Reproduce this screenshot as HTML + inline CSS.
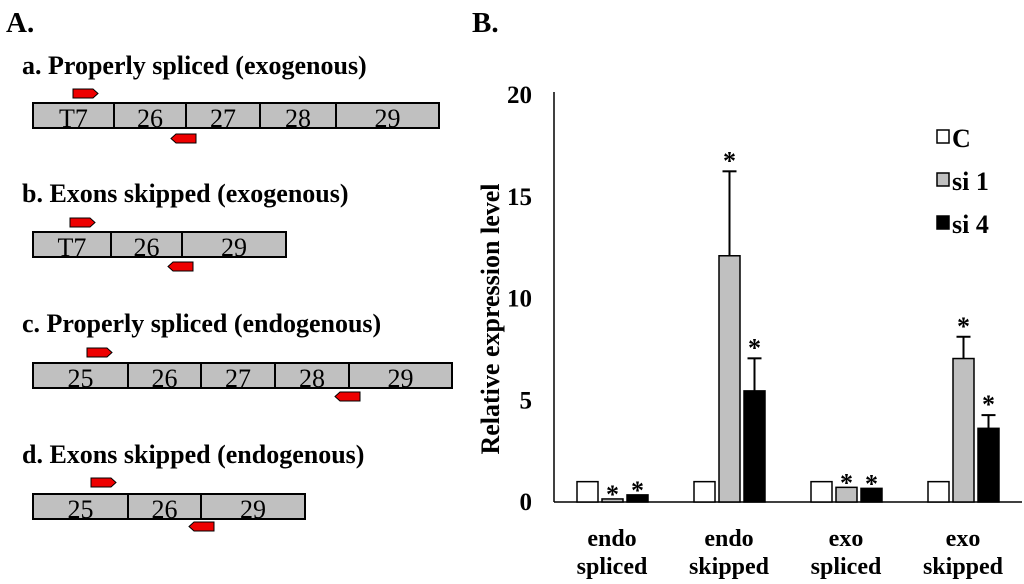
<!DOCTYPE html>
<html><head><meta charset="utf-8"><style>
body{margin:0;background:#fff;}
svg{display:block;font-family:"Liberation Serif",serif;}
</style></head><body>
<svg width="1024" height="584" viewBox="0 0 1024 584">
<g id="panelA">
<text x="6" y="32" font-size="29" font-weight="bold">A.</text>
</g>
<g id="panelB">
<text x="472" y="32" font-size="29" font-weight="bold">B.</text>
<text transform="translate(499,319) rotate(-90)" text-anchor="middle" font-size="26" font-weight="bold">Relative expression level</text>
</g>
</svg>
<script>
const diagrams=[
 {title:"a. Properly spliced (exogenous)",ty:74,y:103,edges:[33,114,186,260,336,439],labels:["T7","26","27","28","29"],fwd:[73,89],rev:[171,134]},
 {title:"b. Exons skipped (exogenous)",ty:202,y:232,edges:[33,111,182,286],labels:["T7","26","29"],fwd:[70,218],rev:[168,262]},
 {title:"c. Properly spliced (endogenous)",ty:332,y:363,edges:[33,128,201,275,349,452],labels:["25","26","27","28","29"],fwd:[87,348],rev:[335,392]},
 {title:"d. Exons skipped (endogenous)",ty:463,y:494,edges:[33,128,201,305],labels:["25","26","29"],fwd:[91,478],rev:[189,522]}
];
const NS="http://www.w3.org/2000/svg";
function mk(tag,attrs,parent){const e=document.createElementNS(NS,tag);for(const k in attrs)e.setAttribute(k,attrs[k]);parent.appendChild(e);return e;}
const A=document.getElementById('panelA');
diagrams.forEach((d,i)=>{
 const t=mk('text',{x:22,y:d.ty,'font-size':26,'font-weight':'bold'},A);
 
 
 t.textContent=d.title;
 for(let j=0;j<d.labels.length;j++){
  const x0=d.edges[j],x1=d.edges[j+1];
  const r=mk('rect',{x:x0,y:d.y,width:x1-x0,height:25,fill:'#c0c0c0',stroke:'#000','stroke-width':2},A);
  
  
  const tx=mk('text',{x:(x0+x1)/2,y:d.y+24,'font-size':26,'text-anchor':'middle'},A);
  
  
  tx.textContent=d.labels[j];
 }
 const fx=d.fwd[0],fy=d.fwd[1];
 const f=mk('polygon',{points:`${fx},${fy} ${fx+20},${fy} ${fx+25},${fy+4.5} ${fx+20},${fy+9} ${fx},${fy+9}`,fill:'#e00',stroke:'#000','stroke-width':1},A);
 
 
 const rx=d.rev[0],ry=d.rev[1];
 const p=mk('polygon',{points:`${rx+25},${ry} ${rx+5},${ry} ${rx},${ry+4.5} ${rx+5},${ry+9} ${rx+25},${ry+9}`,fill:'#e00',stroke:'#000','stroke-width':1},A);
 
 
});
</script>
<script>
const categories=[["endo","spliced"],["endo","skipped"],["exo","spliced"],["exo","skipped"]];
const seriesNames=["C","si 1","si 4"];
const valuesC=[1,1,1,1];
const valuesSi1=[0.15,12.1,0.72,7.05];
const valuesSi4=[0.35,5.46,0.67,3.62];
const errC=[0,0,0,0];
const errSi1=[0,4.15,0,1.07];
const errSi4=[0,1.6,0,0.65];
const sigSi1=[1,1,1,1];
const sigSi4=[1,1,1,1];
const yTicks=[0,5,10,15,20];

const B=document.getElementById('panelB');
const y0=502,y1=95,yMax=20;
function yS(v){return y0-(v/yMax)*(y0-y1);}
const axX=554;
function groupCenter(i){return 612+i*117;}
function barX(i,s){return groupCenter(i)-35+s*25;}
const bw=21;
const fills=['#fff','#c0c0c0','#000'];
const vals=[valuesC,valuesSi1,valuesSi4];
const errs=[errC,errSi1,errSi4];
const sigs=[null,sigSi1,sigSi4];

const ya=mk('line',{x1:axX,y1:y1-3,x2:axX,y2:y0,stroke:'#000','stroke-width':1.5},B);


const xa=mk('line',{x1:axX,y1:y0,x2:1022,y2:y0,stroke:'#000','stroke-width':1.5},B);


yTicks.forEach(t=>{
 const e=mk('text',{x:532,y:yS(t)+8,'font-size':25,'font-weight':'bold','text-anchor':'end'},B);
 
 
 e.textContent=t;
});
categories.forEach((c,i)=>{
 const a=mk('text',{x:groupCenter(i),y:546,'font-size':24,'font-weight':'bold','text-anchor':'middle'},B);
 
 
 a.textContent=c[0];
 const b=mk('text',{x:groupCenter(i),y:574,'font-size':24,'font-weight':'bold','text-anchor':'middle'},B);
 
 
 b.textContent=c[1];
 for(let s=0;s<3;s++){
  const v=vals[s][i],x=barX(i,s);
  const top=yS(v);
  const r=mk('rect',{x:x,y:top,width:bw,height:y0-top,fill:fills[s],stroke:'#000','stroke-width':1.5},B);
  
  
  let starY=top-8;
  const er=errs[s][i];
  if(er>0){
   const ey=yS(v+er);
   const l=mk('line',{x1:x+bw/2,y1:top,x2:x+bw/2,y2:ey,stroke:'#000','stroke-width':2},B);
   
   
   const cap=mk('line',{x1:x+bw/2-7,y1:ey,x2:x+bw/2+7,y2:ey,stroke:'#000','stroke-width':2},B);
   
   
   starY=ey-14;
  }
  if(sigs[s]&&sigs[s][i]){
   const st=mk('text',{x:x+bw/2,y:starY+12,'font-size':26,'font-weight':'bold','text-anchor':'middle'},B);
   
   
   st.textContent='*';
  }
 }
});
seriesNames.forEach((n,s)=>{
 const ly=130+s*43;
 const r=mk('rect',{x:937,y:ly,width:12,height:13,fill:fills[s],stroke:'#000','stroke-width':1.5},B);
 
 
 const t=mk('text',{x:952,y:ly+17,'font-size':26,'font-weight':'bold'},B);
 
 
 t.textContent=n;
});
</script>
</body></html>
